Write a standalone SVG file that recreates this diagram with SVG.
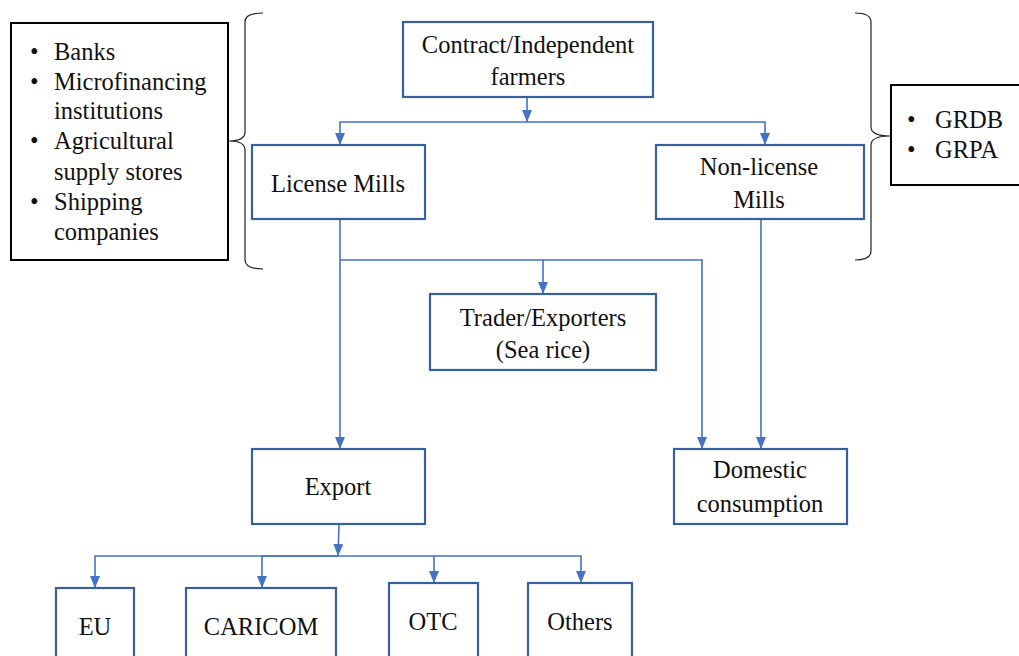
<svg xmlns="http://www.w3.org/2000/svg" width="1019" height="656" viewBox="0 0 1019 656">
<style>
.box{fill:#fff;stroke:#3A5F9F;stroke-width:2.2}
.bbox{fill:#fff;stroke:#000;stroke-width:2}
.brace{fill:none;stroke:#222;stroke-width:1.2}
.con{fill:none;stroke:#4472C4;stroke-width:1.6}
text{font-family:'Liberation Serif','DejaVu Serif','Times New Roman',serif;font-size:24.5px;fill:#111}
.c{text-anchor:middle}
</style>
<defs>
<marker id="ah" markerUnits="userSpaceOnUse" viewBox="0 0 12 10" markerWidth="12" markerHeight="10" refX="12" refY="5" orient="auto">
<path d="M0,0 L12,5 L0,10 z" fill="#4472C4"/>
</marker>
</defs>
<g id="connectors">
<path class="con" d="M527,97 V122" marker-end="url(#ah)"/>
<path class="con" d="M527,122 H340 V145" marker-end="url(#ah)"/>
<path class="con" d="M527,122 H765 V145" marker-end="url(#ah)"/>
<path class="con" d="M340,219 V449" marker-end="url(#ah)"/>
<path class="con" d="M340,260 H543 V294" marker-end="url(#ah)"/>
<path class="con" d="M543,260 H702 V449" marker-end="url(#ah)"/>
<path class="con" d="M761,219 V449" marker-end="url(#ah)"/>
<path class="con" d="M339,524 L338,556" marker-end="url(#ah)"/>
<path class="con" d="M338,556 H95 V588" marker-end="url(#ah)"/>
<path class="con" d="M338,556 H262 V588" marker-end="url(#ah)"/>
<path class="con" d="M338,556 H434 V583" marker-end="url(#ah)"/>
<path class="con" d="M434,556 H581 V583" marker-end="url(#ah)"/>
</g>
<g id="braces">
<path class="brace" d="M263,13 Q245,13 245,22 L245,132 Q245,141 229,141 Q245,141 245,150 L245,260 Q245,269 263,269"/>
<path class="brace" d="M855,13 Q871,13 871,22 L871,127 Q871,136 890,136 Q871,136 871,145 L871,251 Q871,260 855,260"/>
</g>
<g id="support">
<rect class="bbox" x="11" y="23" width="217" height="237"/>
<text x="30" y="60">•</text><text x="54" y="60">Banks</text>
<text x="30" y="90">•</text><text x="54" y="90">Microfinancing</text>
<text x="54" y="119">institutions</text>
<text x="30" y="149">•</text><text x="54" y="149">Agricultural</text>
<text x="54" y="180">supply stores</text>
<text x="30" y="210">•</text><text x="54" y="210">Shipping</text>
<text x="54" y="240">companies</text>
</g>
<g id="regulators">
<rect class="bbox" x="891" y="85" width="140" height="100"/>
<text x="907" y="128">•</text><text x="935" y="128">GRDB</text>
<text x="907" y="158">•</text><text x="935" y="158">GRPA</text>
</g>
<g id="farmers">
<rect class="box" x="403" y="22" width="250" height="75"/>
<text class="c" x="528" y="53">Contract/Independent</text>
<text class="c" x="528" y="85">farmers</text>
</g>
<g id="license">
<rect class="box" x="252" y="145" width="173" height="74"/>
<text class="c" x="338" y="192">License Mills</text>
</g>
<g id="nonlicense">
<rect class="box" x="656" y="145" width="208" height="74"/>
<text class="c" x="759" y="175">Non-license</text>
<text class="c" x="759" y="208">Mills</text>
</g>
<g id="trader">
<rect class="box" x="430" y="294" width="226" height="76"/>
<text class="c" x="543" y="326">Trader/Exporters</text>
<text class="c" x="543" y="358">(Sea rice)</text>
</g>
<g id="export">
<rect class="box" x="252" y="449" width="173" height="75"/>
<text class="c" x="338" y="495">Export</text>
</g>
<g id="domestic">
<rect class="box" x="674" y="449" width="173" height="75"/>
<text class="c" x="760" y="478">Domestic</text>
<text class="c" x="760" y="512">consumption</text>
</g>
<g id="eu">
<rect class="box" x="56" y="588" width="78" height="80"/>
<text class="c" x="95" y="635">EU</text>
</g>
<g id="caricom">
<rect class="box" x="186" y="588" width="150" height="80"/>
<text class="c" x="261" y="635">CARICOM</text>
</g>
<g id="otc">
<rect class="box" x="389" y="583" width="89" height="85"/>
<text class="c" x="433" y="630">OTC</text>
</g>
<g id="others">
<rect class="box" x="528" y="583" width="104" height="85"/>
<text class="c" x="580" y="630">Others</text>
</g>
</svg>
